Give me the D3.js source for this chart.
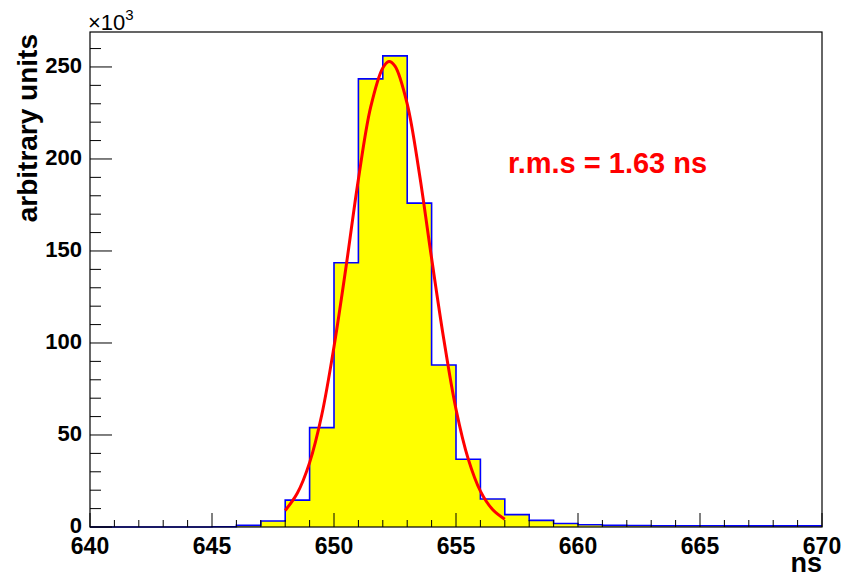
<!DOCTYPE html>
<html>
<head>
<meta charset="utf-8">
<script src="https://cdn.jsdelivr.net/npm/d3@7"></script>
<style>
  body { margin: 0; background: #fff; }
  text { font-family: "Liberation Sans", Arial, sans-serif; font-weight: bold; }
</style>
</head>
<body>
<div id="plot"></div>
<script>
'use strict';

// histogram: lower bin edges (ns) and contents (x10^3)
const binEdges = d3.range(640, 671);
const binCounts = [0, 0, 0, 0, 0, 0.1, 0.9, 3.3, 14.6, 54, 143.6, 243.5, 256, 176, 88, 36.8, 15.2, 6.7, 3.6, 1.9,
                   1.2, 0.9, 0.8, 0.7, 0.7, 0.7, 0.6, 0.6, 0.6, 0.6];

// fitted curve
const fitX = [648, 648.5, 649, 649.5, 650, 650.5, 651, 651.5, 652, 652.25, 652.5, 653, 653.5, 654, 654.5, 655, 655.5, 656, 656.5, 657];
const fitY = [9, 18.5, 35, 61, 98, 142, 189, 228, 249.5, 253, 250.5, 230, 192, 146, 102, 64, 37, 19.5, 9.5, 4.2];

const xTicks = [640, 645, 650, 655, 660, 665, 670];
const yTicks = [0, 50, 100, 150, 200, 250];

const width = 843, height = 578,
    margin = {left: 90, right: 21, top: 32, bottom: 51},
    plotW = width - margin.left - margin.right,
    plotH = height - margin.top - margin.bottom;

const svg = d3.select('#plot').append('svg')
    .attr('width', width).attr('height', height);
const g = svg.append('g').attr('transform', `translate(${margin.left},${margin.top})`);

const x = d3.scaleLinear().domain([640, 670]).range([0, plotW]);
const y = d3.scaleLinear().domain([0, 269]).range([plotH, 0]);

// histogram outline as a step path
let pts = [[binEdges[0], 0]];
binCounts.forEach((c, i) => {
    pts.push([binEdges[i], c]);
    pts.push([binEdges[i + 1], c]);
});
pts.push([binEdges[binEdges.length - 1], 0]);

const line = d3.line().x(d => x(d[0])).y(d => y(d[1]));

g.append('path')
    .attr('d', line(pts))
    .attr('fill', '#ffff00')
    .attr('stroke', 'none');
g.append('path')
    .attr('d', line(pts.slice(1, -1)))
    .attr('fill', 'none')
    .attr('stroke', '#0000ff')
    .attr('stroke-width', 1.6);

// fit
g.append('path')
    .attr('d', d3.line().curve(d3.curveCatmullRom)
        .x((d, i) => x(fitX[i])).y(d => y(d))(fitY))
    .attr('fill', 'none')
    .attr('stroke', '#ff0000')
    .attr('stroke-width', 3);

// frame
g.append('rect')
    .attr('width', plotW).attr('height', plotH)
    .attr('fill', 'none').attr('stroke', '#000').attr('stroke-width', 1.2);

// x ticks
d3.range(640, 671).forEach(v => {
    const major = v % 5 === 0;
    g.append('line')
        .attr('x1', x(v)).attr('x2', x(v))
        .attr('y1', plotH).attr('y2', plotH - (major ? 14 : 7))
        .attr('stroke', '#000').attr('stroke-width', 1);
});
xTicks.forEach(v => {
    g.append('text')
        .attr('x', x(v)).attr('y', plotH + 27)
        .attr('text-anchor', 'middle')
        .attr('font-size', 23)
        .text(v);
});

// y ticks
d3.range(0, 270, 10).forEach(v => {
    const major = v % 50 === 0;
    g.append('line')
        .attr('x1', 0).attr('x2', major ? 22 : 11)
        .attr('y1', y(v)).attr('y2', y(v))
        .attr('stroke', '#000').attr('stroke-width', 1);
});
yTicks.forEach(v => {
    g.append('text')
        .attr('x', -8).attr('y', y(v) + 6)
        .attr('text-anchor', 'end')
        .attr('font-size', 22)
        .text(v);
});

// exponent
const expo = svg.append('text')
    .attr('x', 88).attr('y', 30)
    .attr('font-size', 22)
    .style('font-weight', 'normal');
expo.append('tspan').text('\u00d710');
expo.append('tspan').attr('dy', -10).attr('font-size', 15).text('3');

// axis titles
svg.append('text')
    .attr('x', margin.left + plotW).attr('y', 572)
    .attr('text-anchor', 'end')
    .attr('font-size', 27)
    .text('ns');

svg.append('text')
    .attr('transform', `translate(37, 34) rotate(-90)`)
    .attr('text-anchor', 'end')
    .attr('font-size', 28)
    .text('arbitrary units');

svg.append('text')
    .attr('x', 508).attr('y', 173)
    .attr('font-size', 29)
    .attr('fill', '#ff0000')
    .text('r.m.s = 1.63 ns');
</script>
</body>
</html>
